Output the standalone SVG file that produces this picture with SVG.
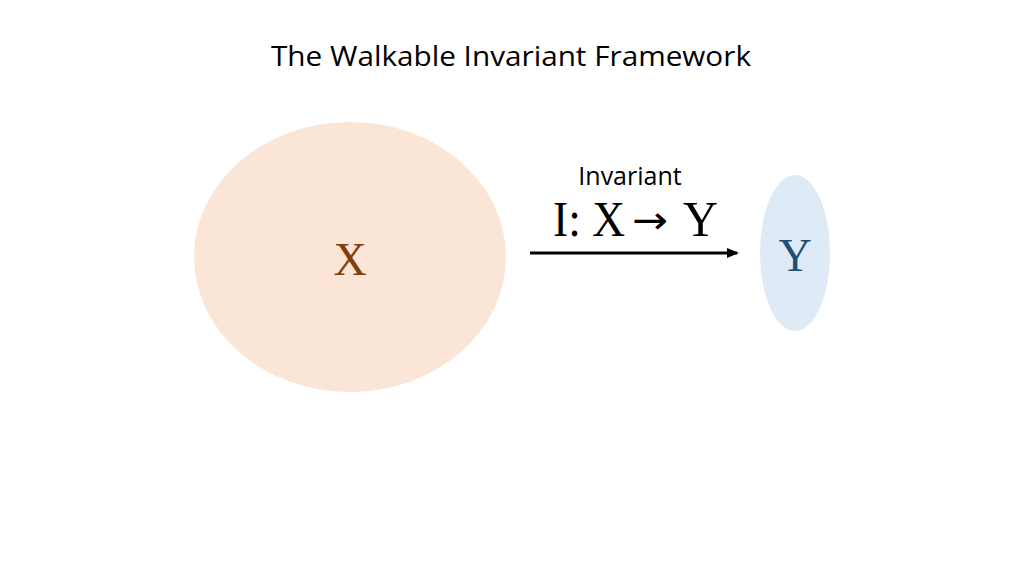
<svg xmlns="http://www.w3.org/2000/svg" width="1024" height="576" viewBox="0 0 1024 576">
<defs>
<style>
.sans{font-family:"Open Sans","Liberation Sans",sans-serif;fill:#000}
.serif{font-family:"Liberation Serif","DejaVu Serif",serif}
</style>
<marker id="ah" markerWidth="12" markerHeight="10" refX="10" refY="5" orient="auto" markerUnits="userSpaceOnUse" viewBox="0 0 12 10">
<path d="M0,0 L12,5 L0,10 z" fill="#000"/>
</marker>
</defs>
<rect width="1024" height="576" fill="#fff"/>
<text class="sans" x="511" y="66" font-size="27" text-anchor="middle" textLength="480" lengthAdjust="spacingAndGlyphs">The Walkable Invariant Framework</text>
<g id="nodeX">
<ellipse cx="350" cy="257" rx="156" ry="135" fill="#FBE5D6"/>
<text class="serif" x="350" y="275" font-size="46" text-anchor="middle" fill="#843C0C">X</text>
</g>
<g id="nodeY">
<ellipse cx="795" cy="253" rx="35" ry="78" fill="#DEEBF7"/>
<text class="serif" x="795" y="271" font-size="46" text-anchor="middle" fill="#1F4E79">Y</text>
</g>
<g id="connectors">
<line x1="530" y1="253" x2="737" y2="253" stroke="#000" stroke-width="3" marker-end="url(#ah)"/>
<text class="sans" x="630" y="185" font-size="25" text-anchor="middle">Invariant</text>
<text class="serif" x="553" y="236" font-size="50" fill="#000" textLength="72" lengthAdjust="spacingAndGlyphs">I: X</text>
<text x="632" y="233" font-family="DejaVu Sans, sans-serif" font-size="38" fill="#000" textLength="36" lengthAdjust="spacingAndGlyphs">→</text>
<text class="serif" x="683" y="236" font-size="50" fill="#000" textLength="35" lengthAdjust="spacingAndGlyphs">Y</text>
</g>
</svg>
